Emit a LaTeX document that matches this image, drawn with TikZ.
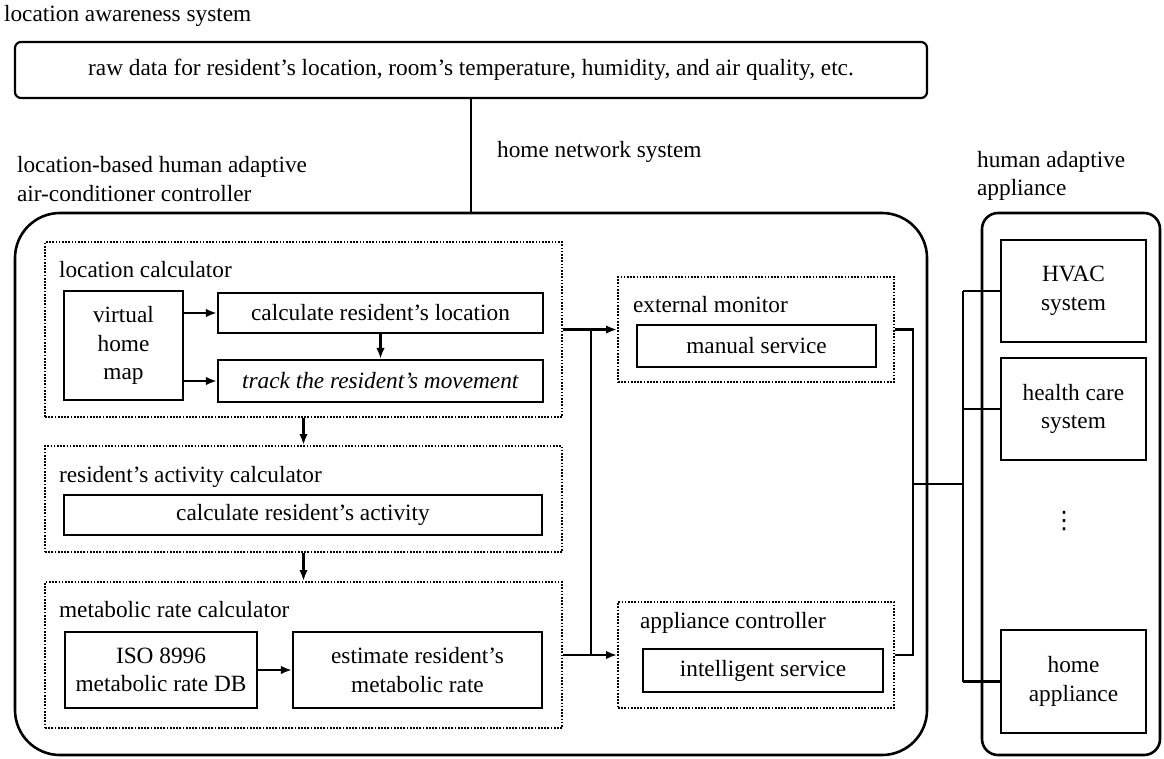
\documentclass[tikz,border=0pt]{standalone}
\usepackage{fontspec}
\setmainfont{Liberation Serif}
\newfontfamily\symfont{DejaVu Sans}
\usetikzlibrary{positioning, arrows.meta, calc}

\begin{document}
\begin{tikzpicture}[x=1pt, y=-1pt, line width=2.2pt,
	every node/.style={font=\fontsize{23.3}{28.5}\selectfont},
	blk/.style 2 args={draw, inner sep=0pt, align=center, minimum width=#1, minimum height=#2},
	grp/.style 2 args={draw, line width=2pt, dash pattern=on 1.7pt off 1.5pt, inner sep=0pt, minimum width=#1, minimum height=#2},
	ttl/.style={anchor=west, inner sep=0pt, align=left},
	arr/.style={-{Latex[length=11pt,width=8.5pt]}}]
				\useasboundingbox (0,0) rectangle (1164,758);
				
				% outer frames
				\node [blk={912}{56}, rounded corners=6pt] (rawdata) at (471,70) {raw data for resident's location, room's temperature, humidity, and air quality, etc.};
				\node [blk={912}{542}, rounded corners=45pt, line width=2.6pt] (ctrl) at (471,484) {};
				\node [blk={178}{542}, rounded corners=16pt, line width=2.6pt] (appl) at (1071,484) {};
				
				\node [ttl] (lasys) at (3,16) {location awareness system};
				\node [ttl] (hnsys) at (496,152) {home network system};
				\node [ttl] (ctrlttl) at (16,179) {location-based human adaptive\\air-conditioner controller};
				\node [ttl] (applttl) at (976,176) {human adaptive\\appliance};
				
				% dotted groups
				\node [grp={517}{175}] (loccalc) at (303.5,329.5) {};
				\node [grp={517}{106}] (actcalc) at (303.5,499) {};
				\node [grp={517}{146}] (metcalc) at (303.5,655) {};
				\node [grp={276}{105}] (extmon) at (756,329.5) {};
				\node [grp={276}{106}] (appctl) at (756,655) {};
				
				\node [ttl] (locttl) at (58,270) {location calculator};
				\node [ttl] (actttl) at (58,477) {resident's activity calculator};
				\node [ttl] (metttl) at (58,610) {metabolic rate calculator};
				\node [ttl] (extttl) at (632,305) {external monitor};
				\node [ttl] (appttl) at (639,623) {appliance controller};
				
				% blocks
				\node [blk={119}{109}] (vmap) at (123.5,345.5) {virtual\\home\\map};
				\node [blk={325}{40}] (calcloc) at (380.5,313) {calculate resident's location};
				\node [blk={325}{42}] (track) at (380.5,381) {\textit{track the resident's movement}};
				\node [blk={478}{40}] (calcact) at (303,515) {calculate resident's activity};
				\node [blk={192}{76}] (iso) at (161,670) {ISO 8996\\metabolic rate DB};
				\node [blk={249}{76}] (estim) at (417.5,670) {estimate resident's\\metabolic rate};
				\node [blk={239}{42}] (manual) at (756.5,346) {manual service};
				\node [blk={240}{43}] (intel) at (763,670.5) {intelligent service};
				\node [blk={145}{102}] (hvac) at (1073.5,291) {HVAC\\system};
				\node [blk={145}{102}] (health) at (1073.5,409) {health care\\system};
				\node [blk={145}{103}] (home) at (1073.5,681.5) {home\\appliance};
				\node [font=\symfont\fontsize{24}{24}\selectfont] (more) at (1064,521) {⋮};
				
				\coordinate (jx) at (591,0);
				\coordinate (obus) at (913,0);
				\coordinate (abus) at (963,0);
				
				% connectors
				\draw (rawdata) -- (ctrl.north);
				\draw [arr] (vmap.east |- calcloc.west) -- (calcloc.west);
				\draw [arr] (vmap.east |- track.west) -- (track.west);
				\draw [arr] (calcloc) -- (track);
				\draw [arr] (loccalc) -- (actcalc);
				\draw [arr] (actcalc) -- (metcalc);
				\draw [arr] (iso) -- (estim);
				\draw [arr] (loccalc) -- (extmon);
				\draw [arr] (metcalc) -- (appctl);
				\draw (jx |- loccalc.east) -- (jx |- metcalc.east);
				\draw (extmon.east) -- (obus |- extmon.east) -- (obus |- appctl.east) -- (appctl.east);
				\draw (obus |- ctrl.center) -- (abus |- ctrl.center);
				\draw (abus |- hvac.west) -- (abus |- home.west);
				\foreach \n in {hvac, health, home}
				\draw (abus |- \n.west) -- (\n.west);
				\end{tikzpicture}
\end{document}
